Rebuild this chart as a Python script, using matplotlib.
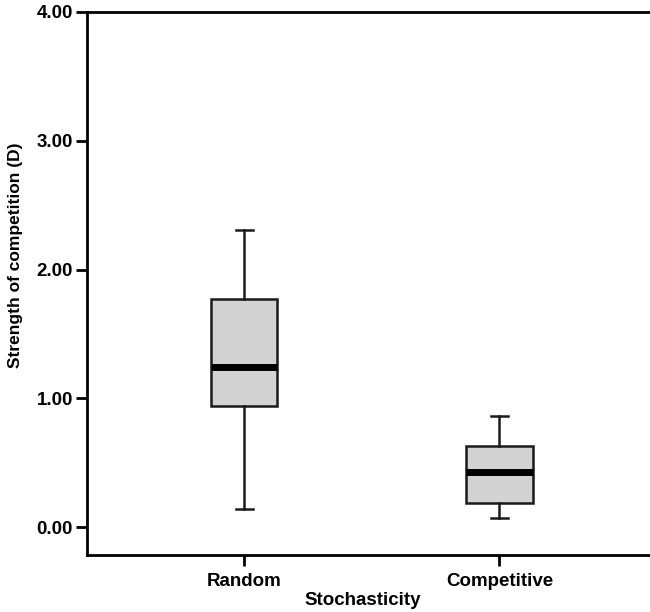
import matplotlib
matplotlib.use("Agg")
import matplotlib.pyplot as plt

groups = ["Random", "Competitive"]
whisker_low = [0.14, 0.07]
q1 = [0.94, 0.19]
median = [1.24, 0.43]
q3 = [1.77, 0.63]
whisker_high = [2.31, 0.86]

plt.rcParams['font.family'] = ['Liberation Sans', 'DejaVu Sans']
plt.rcParams['font.weight'] = 'bold'

fig = plt.figure(figsize=(6.5, 6.12), dpi=100)
ax = fig.add_axes([87 / 650, 1 - 555 / 612, 1 - 87 / 650, (555 - 12) / 612])

stats = []
for i, g in enumerate(groups):
    stats.append({
        "label": g,
        "whislo": whisker_low[i],
        "q1": q1[i],
        "med": median[i],
        "q3": q3[i],
        "whishi": whisker_high[i],
        "fliers": [],
    })

ax.bxp(stats, positions=[1, 2], widths=0.26, patch_artist=True, showfliers=False,
       boxprops=dict(facecolor="#d3d3d3", edgecolor="#1a1a1a", linewidth=1.8),
       medianprops=dict(color="black", linewidth=5, solid_capstyle="butt"),
       whiskerprops=dict(color="#1a1a1a", linewidth=1.8),
       capprops=dict(color="#1a1a1a", linewidth=1.8),
       capwidths=0.065)

ax.set_xlim(0.384, 2.59)
ax.set_ylim(-0.217, 4.0)
ax.set_yticks([0, 1, 2, 3, 4])
ax.set_yticklabels([f"{v:.2f}" for v in [0, 1, 2, 3, 4]])
ax.set_xticks([1, 2])
ax.set_xticklabels(groups)

for s in ["left", "bottom", "top"]:
    ax.spines[s].set_linewidth(2)
    ax.spines[s].set_color("black")
ax.spines["right"].set_visible(False)

ax.tick_params(axis="both", direction="out", length=8, width=2, labelsize=13.5, colors="black")
ax.tick_params(axis="x", pad=5)
ax.tick_params(axis="y", pad=2)

ax.set_ylabel("Strength of competition (D)", fontsize=12.5, fontweight="bold")
ax.yaxis.set_label_coords(-0.114, 0.552)
ax.set_xlabel("Stochasticity", fontsize=13.5, fontweight="bold")
ax.xaxis.set_label_coords(0.49, -0.068)

fig.savefig("out.png", dpi=100)
